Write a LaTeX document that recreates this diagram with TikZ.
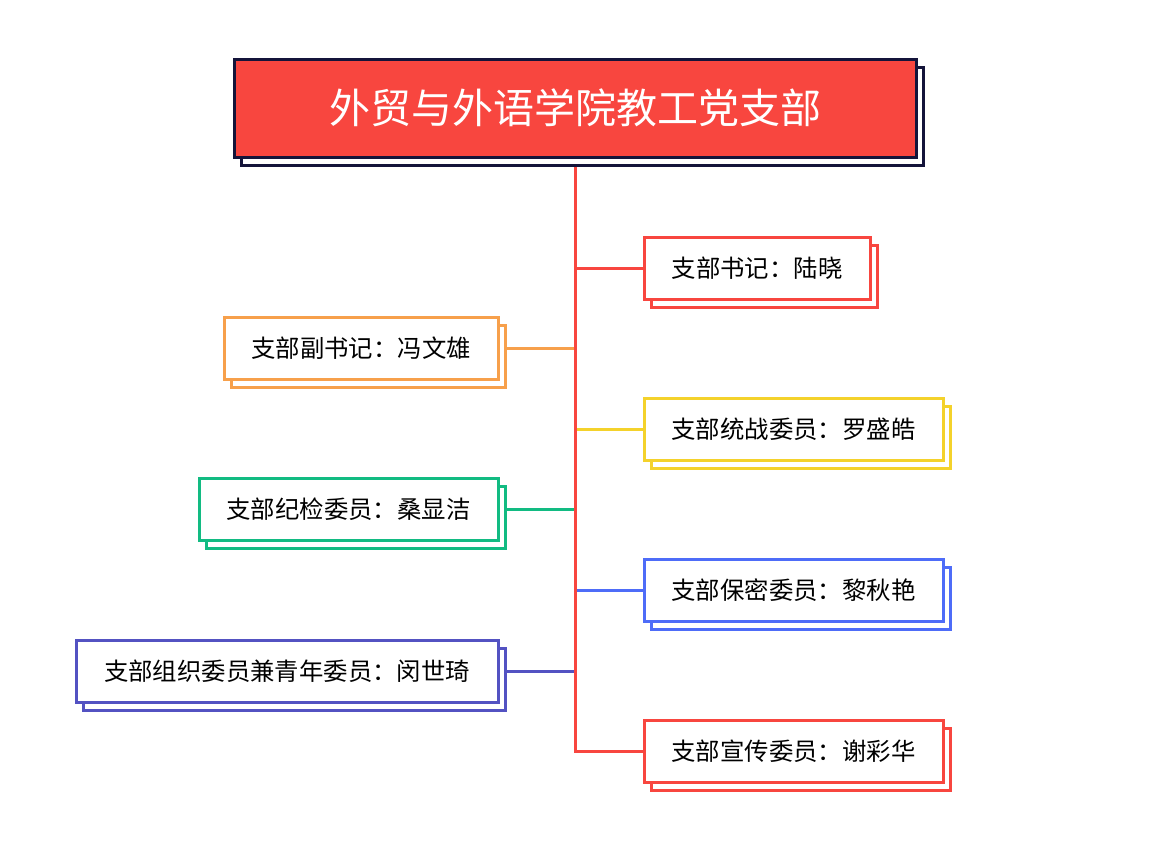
\documentclass[tikz,border=0pt]{standalone}
\usepackage{fontspec}
\newfontfamily\cjk{Noto Sans CJK SC}
\usetikzlibrary{shadows}
\definecolor{cred}{HTML}{F8463F}
\definecolor{cdark}{HTML}{14143A}
\definecolor{corange}{HTML}{F7A04B}
\definecolor{cyellow}{HTML}{F4D22B}
\definecolor{cgreen}{HTML}{12BB82}
\definecolor{cblue}{HTML}{4E6CF8}
\definecolor{cindigo}{HTML}{5352C2}
\tikzset{
  rootbox/.style={draw=cdark, fill=cred, line width=3pt, text=white,
    minimum width=682pt, minimum height=98pt, inner sep=0pt,
    font=\cjk\fontsize{41}{48}\selectfont,
    copy shadow={shadow xshift=7pt, shadow yshift=-8pt, fill=white}},
  member/.style={draw=#1, fill=white, line width=3pt, text=black,
    minimum height=62pt, inner sep=0pt,
    font=\cjk\fontsize{24.4}{28}\selectfont,
    copy shadow={shadow xshift=7pt, shadow yshift=-8pt, fill=white}},
  link/.style={draw=#1, line width=3pt},
}
\begin{document}
\begin{tikzpicture}[x=1pt,y=-1pt]
\useasboundingbox (0,0) rectangle (1154,844);
\node[rootbox] (root) at (575,108) {外贸与外语学院教工党支部};
\node[member=cred, minimum width=226pt] (sj) at (757,268) {支部书记：陆晓};
\node[member=cyellow, minimum width=299pt] (tz) at (793.5,429) {支部统战委员：罗盛皓};
\node[member=cblue, minimum width=299pt] (bm) at (793.5,590) {支部保密委员：黎秋艳};
\node[member=cred, minimum width=299pt] (xc) at (793.5,751) {支部宣传委员：谢彩华};
\node[member=corange, minimum width=274pt] (fsj) at (361,348.5) {支部副书记：冯文雄};
\node[member=cgreen, minimum width=299pt] (jj) at (348.5,509.5) {支部纪检委员：桑显洁};
\node[member=cindigo, minimum width=422pt] (zz) at (287,671) {支部组织委员兼青年委员：闵世琦};
\coordinate (trunktop) at ([yshift=-8pt]root.south);
\draw[link=corange] ([xshift=7pt]fsj.east) -- (fsj.east -| trunktop);
\draw[link=cgreen] ([xshift=7pt]jj.east) -- (jj.east -| trunktop);
\draw[link=cindigo] ([xshift=7pt]zz.east) -- (zz.east -| trunktop);
\draw[link=cred] (sj.west -| trunktop) -- (sj.west);
\draw[link=cyellow] (tz.west -| trunktop) -- (tz.west);
\draw[link=cblue] (bm.west -| trunktop) -- (bm.west);
\draw[link=cred] (trunktop) |- (xc.west);
\end{tikzpicture}
\end{document}
